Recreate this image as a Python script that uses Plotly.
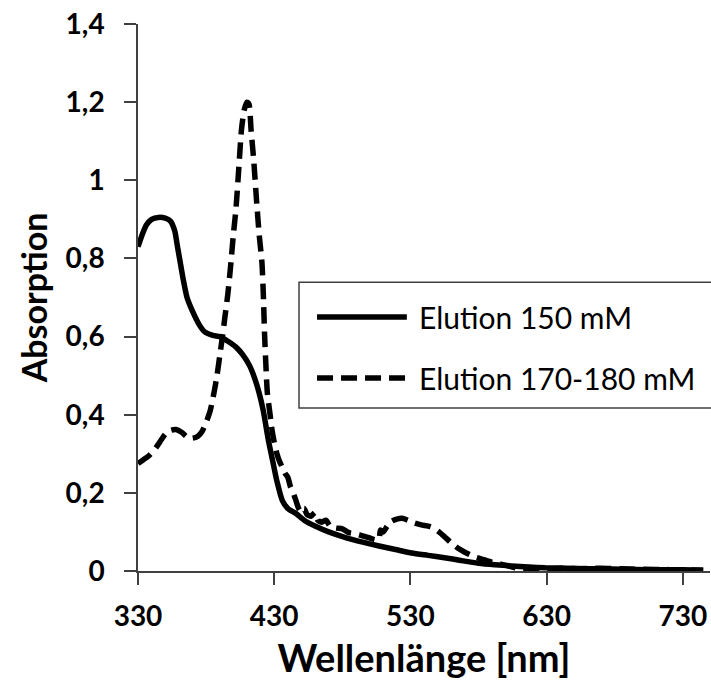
import plotly.graph_objects as go

# ---- data ----
wl_150 = [330, 333, 336, 340, 345, 350, 354, 357, 359, 361, 363, 366, 370, 375, 379, 385, 390,
          396, 402, 407, 412, 416, 419, 422, 424, 426, 429, 432, 436, 440, 446, 452, 460, 470,
          483, 495, 507, 519, 531, 543, 555, 567, 580, 592, 604, 617, 629, 645, 660, 677, 695,
          715, 730, 745]
abs_150 = [0.83, 0.86, 0.885, 0.90, 0.905, 0.903, 0.895, 0.87, 0.83, 0.79, 0.75, 0.70, 0.665,
           0.63, 0.612, 0.603, 0.60, 0.588, 0.573, 0.553, 0.525, 0.49, 0.455, 0.41, 0.37, 0.33,
           0.28, 0.23, 0.18, 0.16, 0.147, 0.13, 0.115, 0.10, 0.085, 0.074, 0.064, 0.055, 0.046,
           0.04, 0.034, 0.027, 0.02, 0.016, 0.013, 0.01, 0.008, 0.007, 0.006, 0.005, 0.004,
           0.003, 0.003, 0.002]

wl_170 = [330, 334, 338, 342, 346, 350, 354, 358, 362, 366, 370, 374, 377, 380, 383, 386, 388,
          390, 392, 394, 396, 398, 400, 402, 404, 406, 408, 410, 411.5, 413, 415, 417, 419, 421,
          422, 423, 424, 425, 427, 428, 430, 432, 434, 436, 438, 440, 442, 444, 446, 448, 450,
          452, 454, 457, 460, 462, 465, 468, 471, 475, 480, 485, 490, 495, 500, 504, 507, 508,
          510, 513, 516, 520, 524, 528, 533, 538, 543, 547, 551, 555, 560, 565, 570, 576, 583,
          590, 597, 603, 610, 620, 630, 640, 655, 670, 690, 710, 730, 745]
abs_170 = [0.275, 0.285, 0.295, 0.31, 0.33, 0.35, 0.36, 0.362, 0.355, 0.343, 0.34, 0.345, 0.357,
           0.38, 0.41, 0.46, 0.50, 0.55, 0.60, 0.655, 0.71, 0.78, 0.86, 0.93, 1.03, 1.13, 1.18,
           1.20, 1.195, 1.13, 1.05, 0.95, 0.86, 0.79, 0.71, 0.60, 0.52, 0.455, 0.40, 0.37, 0.33,
           0.30, 0.28, 0.265, 0.25, 0.24, 0.215, 0.20, 0.18, 0.16, 0.15, 0.16, 0.145, 0.14,
           0.15, 0.13, 0.125, 0.13, 0.115, 0.11, 0.108, 0.098, 0.095, 0.09, 0.085, 0.08, 0.082,
           0.105, 0.10, 0.115, 0.127, 0.133, 0.135, 0.13, 0.123, 0.118, 0.115, 0.11, 0.10,
           0.088, 0.072, 0.058, 0.048, 0.038, 0.03, 0.022, 0.017, 0.012, 0.006, 0.003, 0.004,
           0.007, 0.006, 0.007, 0.005, 0.004, 0.003, 0.002]

names = ["Elution 150 mM", "Elution 170-180 mM"]
x_ticks = [330, 430, 530, 630, 730]
y_ticks = [0, 0.2, 0.4, 0.6, 0.8, 1.0, 1.2, 1.4]
y_tick_labels = ["0", "0,2", "0,4", "0,6", "0,8", "1", "1,2", "1,4"]

FONT = "Lato"
DASH = "16px,8px"

fig = go.Figure()
fig.add_trace(go.Scatter(x=wl_150, y=abs_150, mode="lines", name=names[0],
                         line=dict(color="black", width=5.5, shape="spline", smoothing=0.6),
                         showlegend=False))
fig.add_trace(go.Scatter(x=wl_170, y=abs_170, mode="lines", name=names[1],
                         line=dict(color="black", width=5.5, dash=DASH, shape="spline", smoothing=0.6),
                         showlegend=False))

# ---- legend drawn as a framed box (paper coordinates) ----
fig.add_shape(type="rect", xref="paper", yref="paper", x0=0.2815, x1=1.05, y0=0.298, y1=0.528,
              line=dict(color="#404040", width=1.5), fillcolor="white", layer="above")
fig.add_shape(type="line", xref="paper", yref="paper", x0=0.313, x1=0.470, y0=0.4644, y1=0.4644,
              line=dict(color="black", width=5.5), layer="above")
fig.add_shape(type="line", xref="paper", yref="paper", x0=0.313, x1=0.470, y0=0.3528, y1=0.3528,
              line=dict(color="black", width=5.5, dash=DASH), layer="above")
for yy, nm in zip([0.4644, 0.3528], names):
    fig.add_annotation(xref="paper", yref="paper", x=0.4878, y=yy, text=nm, showarrow=False,
                       xanchor="left", yanchor="middle",
                       font=dict(family=FONT, size=30, color="black"))

fig.update_layout(
    width=711, height=691,
    margin=dict(l=138, r=1, t=24, b=120),
    paper_bgcolor="white", plot_bgcolor="white",
    font=dict(family=FONT, color="black"),
)
fig.update_xaxes(
    range=[330, 750], tickvals=x_ticks, ticktext=[str(v) for v in x_ticks],
    showgrid=False, zeroline=False, showline=True, linecolor="#404040", linewidth=1.5,
    ticks="outside", ticklen=12, tickwidth=1.5, tickcolor="#404040",
    tickfont=dict(family=FONT, size=28, color="black", weight="bold"),
    ticklabelstandoff=8,
    title=dict(text="<b>Wellenlänge [nm]</b>", font=dict(family=FONT, size=38, color="black"),
               standoff=14),
)
fig.update_yaxes(
    range=[0, 1.4], tickvals=y_ticks, ticktext=y_tick_labels,
    showgrid=False, zeroline=False, showline=True, linecolor="#404040", linewidth=1.5,
    ticks="outside", ticklen=12, tickwidth=1.5, tickcolor="#404040",
    tickfont=dict(family=FONT, size=28, color="black", weight="bold"),
    ticklabelstandoff=14,
    title=dict(text="<b>Absorption</b>", font=dict(family=FONT, size=34, color="black"),
               standoff=8),
)

fig.write_html("out.html")
